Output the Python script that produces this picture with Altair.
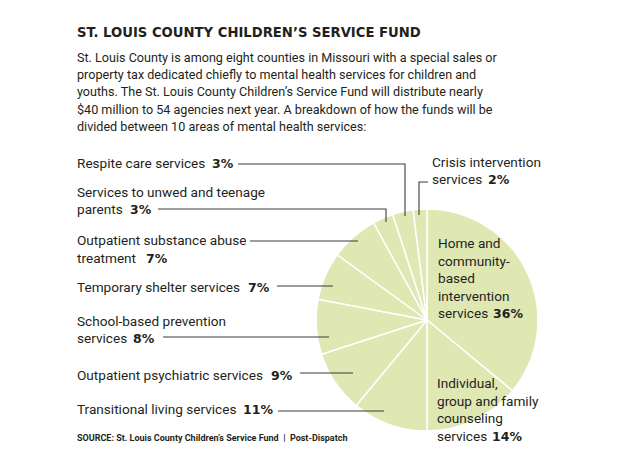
import altair as alt
import pandas as pd

# ---------------- data ----------------
categories = [
    "Home and community-based intervention services",
    "Individual, group and family counseling services",
    "Transitional living services",
    "Outpatient psychiatric services",
    "School-based prevention services",
    "Temporary shelter services",
    "Outpatient substance abuse treatment",
    "Services to unwed and teenage parents",
    "Respite care services",
    "Crisis intervention services",
]
shares = [36, 14, 11, 9, 8, 7, 7, 3, 3, 2]

title_text = "ST. LOUIS COUNTY CHILDREN\u2019S SERVICE FUND"
intro_lines = [
    "St. Louis County is among eight counties in Missouri with a special sales or",
    "property tax dedicated chiefly to mental health services for children and",
    "youths. The St. Louis County Children\u2019s Service Fund will distribute nearly",
    "$40 million to 54 agencies next year. A breakdown of how the funds will be",
    "divided between 10 areas of mental health services:",
]
source_text = "SOURCE: St. Louis County Children\u2019s Service Fund\u00a0\u00a0|\u00a0\u00a0Post-Dispatch"

label_lines = [
    ["Home and", "community-", "based", "intervention", "services"],
    ["Individual,", "group and family", "counseling", "services"],
    ["Transitional living services"],
    ["Outpatient psychiatric services"],
    ["School-based prevention", "services"],
    ["Temporary shelter services"],
    ["Outpatient substance abuse", "treatment"],
    ["Services to unwed and teenage", "parents"],
    ["Respite care services"],
    ["Crisis intervention", "services"],
]

# ---------------- layout (pixels) ----------------
W, H = 620, 465
CX, CY, R = 427, 320, 111
label_x = [438, 437, 77, 77, 77, 77, 77, 77, 77, 432]
label_y = [
    [248, 265.5, 283, 300.5, 318],
    [388, 405.5, 423, 440.5],
    [414],
    [380],
    [326, 342.5],
    [292],
    [245, 263],
    [197, 214],
    [168],
    [167, 184],
]
pct_x = [493, 492, 243, 271, 133, 248, 146, 130, 212, 488]
leaders = [
    None,
    None,
    [(278, 411), (384, 411)],
    [(300, 373), (353, 373)],
    [(163, 337), (329, 337)],
    [(277, 286), (333, 286)],
    [(250, 241), (358, 241)],
    [(158, 209), (386, 209), (386, 222)],
    [(238, 164), (405, 164), (405, 216)],
    [(428, 182), (419, 182), (419, 215)],
]
intro_y = [61.5, 79, 96.4, 113.8, 131.2]

INK = "#231f20"
BODY_FONT = "Roboto"
BOLD_FONT = "DejaVu Sans"

# ---------------- tables ----------------
pie_df = pd.DataFrame({"category": categories, "share": shares, "idx": range(len(shares))})

text_rows = []
for i, lines in enumerate(label_lines):
    for j, ln in enumerate(lines):
        text_rows.append({"x": label_x[i], "y": label_y[i][j], "text": ln})
reg_df = pd.DataFrame(text_rows)

pct_df = pd.DataFrame({
    "x": pct_x,
    "y": [ys[-1] for ys in label_y],
    "text": [f"{v}%" for v in shares],
})

intro_df = pd.DataFrame({"x": [77] * len(intro_lines), "y": intro_y, "text": intro_lines})
title_df = pd.DataFrame({"x": [77], "y": [37.3], "text": [title_text]})
source_df = pd.DataFrame({"x": [77], "y": [441], "text": [source_text]})

line_rows = []
for i, pts in enumerate(leaders):
    if pts is None:
        continue
    for k, (px, py) in enumerate(pts):
        line_rows.append({"cat": categories[i], "k": k, "x": px, "y": py})
line_df = pd.DataFrame(line_rows)

xs = alt.Scale(domain=[0, W], range=[0, W])
ys = alt.Scale(domain=[0, H], range=[0, H])


def X():
    return alt.X("x:Q", scale=xs, axis=None)


def Y():
    return alt.Y("y:Q", scale=ys, axis=None)


pie = alt.Chart(pie_df).mark_arc(
    outerRadius=R, stroke="white", strokeWidth=1.5, color="#dfe8b3"
).encode(
    theta=alt.Theta("share:Q", stack=True),
    order=alt.Order("idx:Q"),
    x=alt.value(CX),
    y=alt.value(CY),
)

lines = alt.Chart(line_df).mark_line(color="#3b3b3b", strokeWidth=1.1).encode(
    x=X(), y=Y(), detail="cat:N", order="k:Q"
)


def text_layer(df, font, size, weight="normal"):
    return alt.Chart(df).mark_text(
        align="left", baseline="alphabetic", font=font, fontSize=size,
        fontWeight=weight, color=INK
    ).encode(x=X(), y=Y(), text="text:N")


chart = alt.layer(
    pie,
    lines,
    text_layer(title_df, BOLD_FONT, 13.2, "bold"),
    text_layer(intro_df, BODY_FONT, 12.6),
    text_layer(reg_df, BODY_FONT, 13.6),
    text_layer(pct_df, BOLD_FONT, 12.5, "bold"),
    text_layer(source_df, BODY_FONT, 9, "bold"),
).properties(
    width=W, height=H, autosize=alt.AutoSizeParams(type="none"), padding=0
).configure_view(stroke=None)

chart.save("out.html", embed_options={"renderer": "svg", "actions": False})
